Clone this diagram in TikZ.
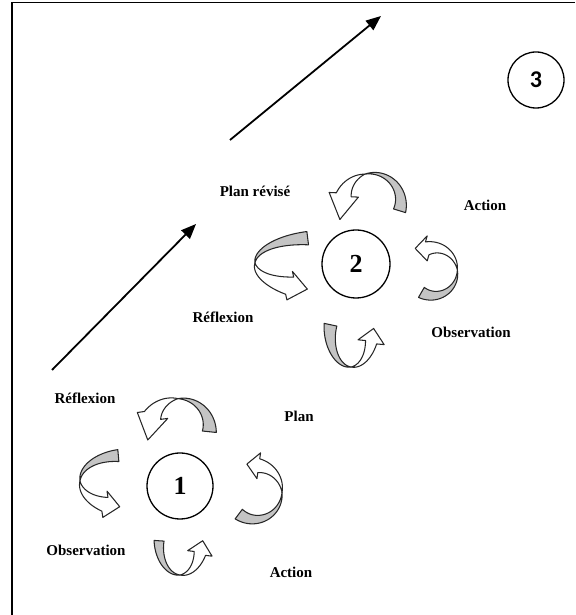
\documentclass[tikz,border=0pt]{standalone}
\usepackage{fontspec}
\setmainfont{Liberation Serif}
\newfontfamily\digitfont{Carlito}
\usetikzlibrary{arrows.meta,calc}

% Parameters of a twisted ribbon arrow running counter-clockwise on an ellipse:
% cx,cy centre; rx,ry radii; a0 flat (grey) end; ac twist; ab head base;
% w0/w2 half widths of the grey and white halves; hw/hl head half width / length;
% tw extra turn of the head.
\pgfkeys{/rib/.cd,
  cx/.initial=0, cy/.initial=0, rx/.initial=30, ry/.initial=30,
  a0/.initial=0, ac/.initial=90, ab/.initial=150,
  w0/.initial=6, w2/.initial=8, hw/.initial=14, hl/.initial=16, tw/.initial=0}

\newcommand\ribbonarrow[1]{%
  \begingroup
  \pgfqkeys{/rib}{#1}%
  \pgfmathsetmacro\rbcx{\pgfkeysvalueof{/rib/cx}}%
  \pgfmathsetmacro\rbcy{\pgfkeysvalueof{/rib/cy}}%
  \pgfmathsetmacro\rbrx{\pgfkeysvalueof{/rib/rx}}%
  \pgfmathsetmacro\rbry{\pgfkeysvalueof{/rib/ry}}%
  \pgfmathsetmacro\rbaO{\pgfkeysvalueof{/rib/a0}}%
  \pgfmathsetmacro\rbac{\pgfkeysvalueof{/rib/ac}}%
  \pgfmathsetmacro\rbab{\pgfkeysvalueof{/rib/ab}}%
  \pgfmathsetmacro\rbwO{\pgfkeysvalueof{/rib/w0}}%
  \pgfmathsetmacro\rbwT{\pgfkeysvalueof{/rib/w2}}%
  \pgfmathsetmacro\rbhw{\pgfkeysvalueof{/rib/hw}}%
  \pgfmathsetmacro\rbhl{\pgfkeysvalueof{/rib/hl}}%
  \pgfmathsetmacro\rbtw{\pgfkeysvalueof{/rib/tw}}%
  \pgfmathsetmacro\rbtx{-(\rbrx)*sin(\rbab)}%
  \pgfmathsetmacro\rbty{(\rbry)*cos(\rbab)}%
  \pgfmathsetmacro\rbd{atan2(\rbty,\rbtx)+(\rbtw)}%
  \pgfmathsetmacro\rbn{\rbd-90}%
  \coordinate (rbbase) at ({\rbcx+\rbrx*cos(\rbab)},{\rbcy+\rbry*sin(\rbab)});
  % grey half, from the flat end to the twist
  \filldraw[ribbon, fill=ribgrey]
    plot[domain=\rbaO:\rbac, samples=30]
      ({\rbcx+(\rbrx+\rbwO*(\x-(\rbac))/(\rbaO-(\rbac)))*cos(\x)},
       {\rbcy+(\rbry+\rbwO*(\x-(\rbac))/(\rbaO-(\rbac)))*sin(\x)})
    -- plot[domain=\rbac:\rbaO, samples=30]
      ({\rbcx+(\rbrx-\rbwO*(\x-(\rbac))/(\rbaO-(\rbac)))*cos(\x)},
       {\rbcy+(\rbry-\rbwO*(\x-(\rbac))/(\rbaO-(\rbac)))*sin(\x)})
    -- cycle;
  % white half with its head
  \filldraw[ribbon, fill=white]
    plot[domain=\rbac:\rbab, samples=30]
      ({\rbcx+(\rbrx+\rbwT*(\x-(\rbac))/(\rbab-(\rbac)))*cos(\x)},
       {\rbcy+(\rbry+\rbwT*(\x-(\rbac))/(\rbab-(\rbac)))*sin(\x)})
    -- ($(rbbase)+(\rbn:\rbhw)$)
    -- ($(rbbase)+(\rbd:\rbhl)$)
    -- ($(rbbase)+(\rbn+180:\rbhw)$)
    -- plot[domain=\rbab:\rbac, samples=30]
      ({\rbcx+(\rbrx-\rbwT*(\x-(\rbac))/(\rbab-(\rbac)))*cos(\x)},
       {\rbcy+(\rbry-\rbwT*(\x-(\rbac))/(\rbab-(\rbac)))*sin(\x)})
    -- cycle;
  \endgroup}

\definecolor{ribgrey}{RGB}{196,196,196}

\begin{document}
\begin{tikzpicture}[x=1pt,y=1pt,
  ribbon/.style={draw=black!85, line width=1.05pt, line join=round},
  lab/.style={font=\bfseries\fontsize{15}{17}\selectfont, inner sep=0pt},
  cyc/.style={circle, draw, line width=1.3pt, minimum size=66pt, inner sep=0pt,
    font=\bfseries\fontsize{26}{28}\selectfont},
  progress/.style={line width=1.8pt, -{Triangle[length=15pt,width=12pt]}}]

\useasboundingbox (0,0) rectangle (575,615);

% frame (top and left edges)
\draw[line width=1.5pt] (12,0) -- (12,612.5) -- (575,612.5);

% cycle circles
\node[cyc] (c1) at (180,129) {1};
\node[cyc, minimum size=68pt] (c2) at (356,351) {2};
\node[circle, draw, line width=1.3pt, minimum size=56pt, inner sep=0pt,
  font=\digitfont\bfseries\fontsize{24}{26}\selectfont] (c3) at (536,535) {3};

% progression arrows between the cycles
\coordinate (p1s) at (52,245);
\coordinate (p1e) at (196,391);
\coordinate (p2s) at (230,475);
\coordinate (p2e) at (381,599);
\draw[progress] (p1s) -- (p1e);
\draw[progress] (p2s) -- (p2e);

% cycle 1 ribbons
\ribbonarrow{cx=179.5, cy=186.4, rx=30, ry=30, a0=-6, ac=93, ab=154,
  w0=7, w2=9, hw=15.5, hl=25, tw=15}
\ribbonarrow{cx=255, cy=122.5, rx=27, ry=27, a0=-127, ac=0, ab=82,
  w0=6, w2=7, hw=13, hl=12, tw=0}
\ribbonarrow{cx=180, cy=72, rx=21, ry=32, a0=176, ac=270, ab=341,
  w0=5, w2=6, hw=12.5, hl=13, tw=0}
\ribbonarrow{cx=122, cy=134, rx=42, ry=25.5, a0=95, ac=180, ab=246,
  w0=6, w2=7.5, hw=13.3, hl=15, tw=6}

% cycle 2 ribbons
\ribbonarrow{cx=371.8, cy=412.7, rx=29, ry=29, a0=-17, ac=104, ab=165,
  w0=6.3, w2=7.7, hw=14.8, hl=25, tw=6}
\ribbonarrow{cx=433.4, cy=343.4, rx=24, ry=24, a0=-120, ac=4, ab=105,
  w0=5.8, w2=6.7, hw=12.5, hl=12, tw=-15}
\ribbonarrow{cx=351, cy=283, rx=21, ry=35, a0=168, ac=270, ab=343,
  w0=6.5, w2=5.8, hw=13.3, hl=14, tw=0}
\ribbonarrow{cx=315, cy=352, rx=60, ry=25, a0=97, ac=180, ab=245,
  w0=6.7, w2=9.5, hw=14.5, hl=18, tw=0}

% labels
\node[lab] (l1r) at (85,217) {Réflexion};
\node[lab] (l1p) at (299,199) {Plan};
\node[lab] (l1o) at (86,65) {Observation};
\node[lab] (l1a) at (291,43) {Action};
\node[lab] (l2p) at (255,424) {Plan révisé};
\node[lab] (l2a) at (485,410) {Action};
\node[lab] (l2r) at (223,298) {Réflexion};
\node[lab] (l2o) at (471,283) {Observation};
\end{tikzpicture}
\end{document}
